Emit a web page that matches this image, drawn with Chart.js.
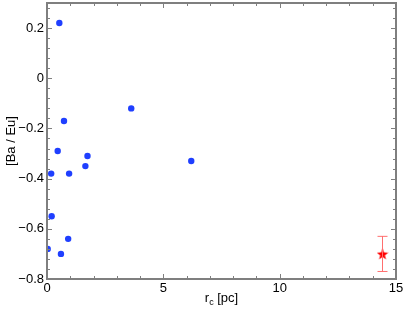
<!DOCTYPE html>
<html>
<head>
<meta charset="utf-8">
<script src="https://cdn.jsdelivr.net/npm/chart.js@4"></script>
<style>
  html, body { margin: 0; padding: 0; background: #fff; }
  #wrap { width: 407px; height: 313px; }
</style>
</head>
<body>
<div id="wrap"><canvas id="chart" width="407" height="313"></canvas></div>
<script>
// cluster sample
const rcValues = [0.53, 0.73, 0.46, 0.18, 0.95, 1.74, 1.65, 0.20, 0.91, 0.03, 0.60, 3.62, 6.20];
const baEuValues = [0.22, -0.17, -0.29, -0.38, -0.38, -0.31, -0.35, -0.55, -0.64, -0.68, -0.70, -0.12, -0.33];

// the single red star with its error bar
const starRc = [14.42];
const starBaEu = [-0.70];
const starErr = [0.07];

const xTicks = [0, 5, 10, 15];
const yTicks = [-0.8, -0.6, -0.4, -0.2, 0, 0.2];

const fontFamily = '"Liberation Sans", Arial, sans-serif';
const frameColor = '#7f7f7f';

// filled five-point star used as point style
function makeStar(size, color) {
  const c = document.createElement('canvas');
  c.width = size; c.height = size;
  const g = c.getContext('2d');
  const cx = size / 2, cy = size / 2 + 0.6;
  const ro = size / 2, ri = ro * 0.42;
  g.beginPath();
  for (let i = 0; i < 10; i++) {
    const r = i % 2 === 0 ? ro : ri;
    const a = -Math.PI / 2 + i * Math.PI / 5;
    const px = cx + r * Math.cos(a), py = cy + r * Math.sin(a);
    if (i === 0) g.moveTo(px, py); else g.lineTo(px, py);
  }
  g.closePath();
  g.fillStyle = color;
  g.fill();
  return c;
}

const framePlugin = {
  id: 'frame',
  afterDraw(chart) {
    const { ctx, chartArea: a, scales } = chart;
    const xs = scales.x, ys = scales.y;
    ctx.save();
    ctx.strokeStyle = frameColor;
    ctx.lineWidth = 1;
    // x ticks, major every 5, minor every 1
    for (let v = 0; v <= 15; v++) {
      const px = Math.round(xs.getPixelForValue(v)) + 0.5;
      const len = v % 5 === 0 ? 5 : 3;
      ctx.beginPath();
      ctx.moveTo(px, a.bottom); ctx.lineTo(px, a.bottom - len);
      ctx.moveTo(px, a.top); ctx.lineTo(px, a.top + len);
      ctx.stroke();
    }
    // y ticks, major every 0.2, minor every 0.04
    for (let k = -20; k <= 7; k++) {
      const v = k * 0.04;
      const px = Math.round(ys.getPixelForValue(v)) + 0.5;
      const len = k % 5 === 0 ? 5 : 3;
      ctx.beginPath();
      ctx.moveTo(a.left, px); ctx.lineTo(a.left + len, px);
      ctx.moveTo(a.right, px); ctx.lineTo(a.right - len, px);
      ctx.stroke();
    }
    ctx.lineWidth = 2;
    ctx.strokeRect(a.left, a.top, a.right - a.left, a.bottom - a.top);

    // axis titles
    ctx.fillStyle = '#000';
    ctx.font = '13px ' + fontFamily;
    ctx.textBaseline = 'alphabetic';
    const cx = (a.left + a.right) / 2;
    const wR = ctx.measureText('r').width;
    ctx.font = '9px ' + fontFamily;
    const wC = ctx.measureText('c').width;
    ctx.font = '13px ' + fontFamily;
    const rest = ' [pc]';
    const wRest = ctx.measureText(rest).width;
    let x0 = cx - (wR + wC + wRest) / 2;
    const base = 302;
    ctx.textAlign = 'left';
    ctx.fillText('r', x0, base);
    ctx.font = '9px ' + fontFamily;
    ctx.fillText('c', x0 + wR, base + 3);
    ctx.font = '13px ' + fontFamily;
    ctx.fillText(rest, x0 + wR + wC, base);

    ctx.translate(15, (a.top + a.bottom) / 2);
    ctx.rotate(-Math.PI / 2);
    ctx.textAlign = 'center';
    ctx.fillText('[Ba / Eu]', 0, 0);
    ctx.restore();
  }
};

const fmt = v => {
  if (Math.abs(v) < 1e-9) return '0';
  const s = Number.isInteger(v) ? String(v) : v.toFixed(1);
  return s.replace('-', '\u2212');
};

new Chart(document.getElementById('chart'), {
  type: 'scatter',
  data: {
    datasets: [
      {
        data: rcValues.map((x, i) => ({ x, y: baEuValues[i] })),
        backgroundColor: '#1f3fff',
        borderColor: '#1f3fff',
        pointRadius: 3.2,
        borderWidth: 0
      },
      {
        type: 'line',
        data: [
          { x: starRc[0], y: starBaEu[0] + starErr[0] },
          { x: starRc[0], y: starBaEu[0] - starErr[0] }
        ],
        showLine: true,
        borderColor: '#ff6f6f',
        borderWidth: 1,
        pointStyle: 'line',
        pointRadius: 5,
        pointBorderColor: '#ff6f6f',
        pointBorderWidth: 1
      },
      {
        data: starRc.map((x, i) => ({ x, y: starBaEu[i] })),
        pointStyle: makeStar(12, '#ff0000'),
        pointRadius: 6
      }
    ]
  },
  plugins: [framePlugin],
  options: {
    responsive: false,
    animation: false,
    layout: { autoPadding: false, padding: { left: 0, right: 11, top: 3, bottom: 0 } },
    plugins: { legend: { display: false }, tooltip: { enabled: false } },
    scales: {
      x: {
        type: 'linear',
        min: 0, max: 15,
        afterBuildTicks: s => { s.ticks = xTicks.map(v => ({ value: v })); },
        afterFit: s => { s.height = 34; s.paddingLeft = 0; s.paddingRight = 0; },
        grid: { display: false, drawTicks: false },
        border: { display: false },
        ticks: {
          padding: 2,
          maxRotation: 0,
          color: '#000',
          font: { family: fontFamily, size: 13 },
          callback: v => fmt(v)
        }
      },
      y: {
        type: 'linear',
        min: -0.8, max: 0.3,
        afterBuildTicks: s => { s.ticks = yTicks.map(v => ({ value: v })); },
        afterFit: s => { s.width = 47; s.paddingTop = 0; s.paddingBottom = 0; },
        grid: { display: false, drawTicks: false },
        border: { display: false },
        ticks: {
          padding: 3,
          color: '#000',
          font: { family: fontFamily, size: 13 },
          callback: v => fmt(v)
        }
      }
    }
  }
});
</script>
</body>
</html>
